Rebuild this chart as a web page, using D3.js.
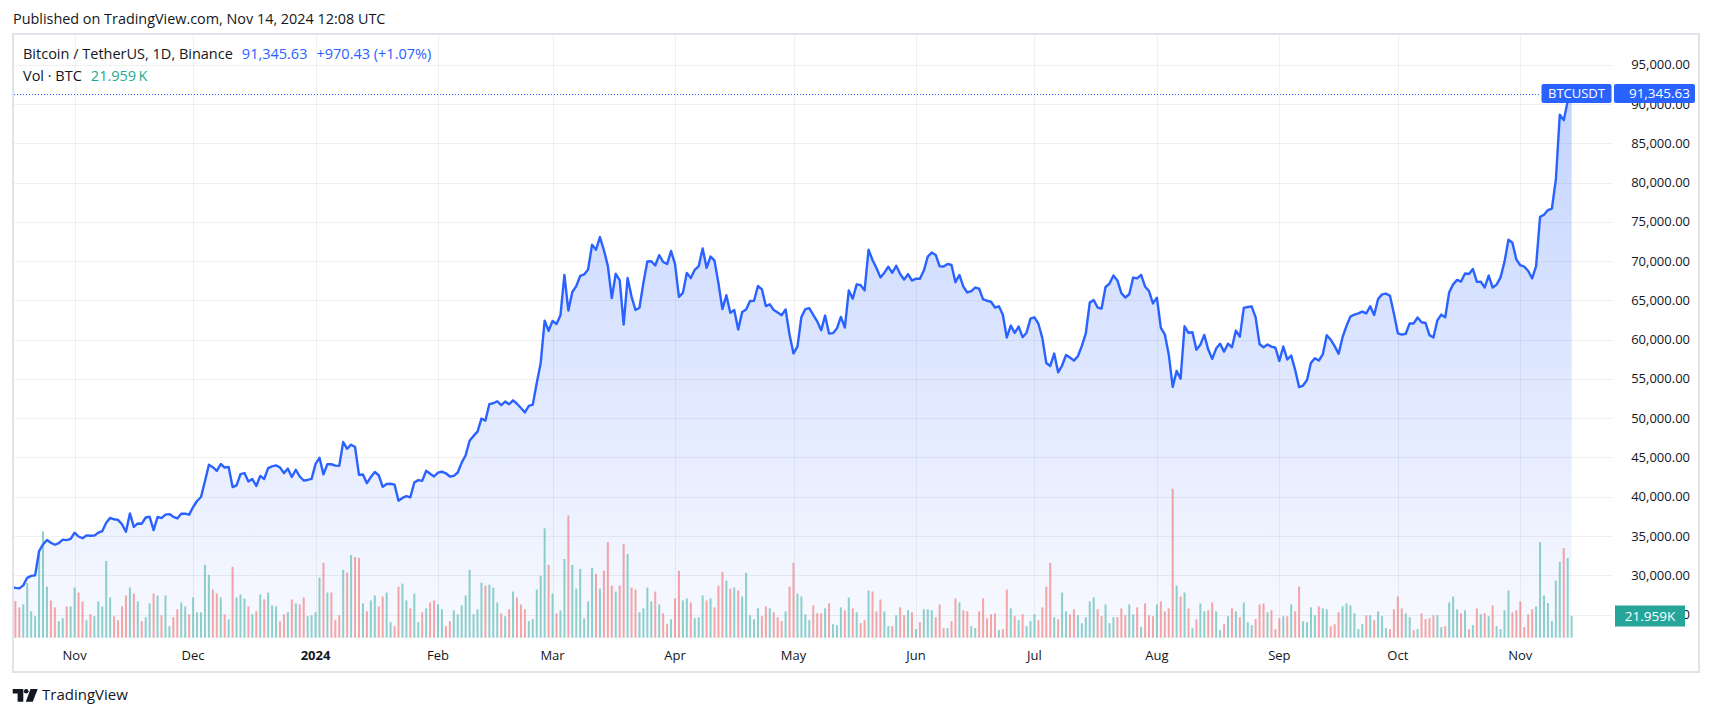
<!DOCTYPE html>
<html><head><meta charset="utf-8">
<script src="https://cdn.jsdelivr.net/npm/d3@7"></script>
<style>
html,body{margin:0;padding:0;background:#fff;}
svg{display:block;}
text{font-family:"Open Sans",sans-serif;}
</style></head><body>
<svg id="c" width="1713" height="717"></svg>
<script>
// ---- DATA (daily closes, BTCUSDT, Binance) ----
const seriesStart = "2023-10-16";
const closesOct23 = [28500,28400,28330,28720,29680,29920,29990,33070,33920,34500,34150,33890,34090,34540,34480,34640];
const closesNov23 = [35420,34940,34720,35080,35040,35050,35420,35620,36700,37310,37130,37060,36490,35550,37880,36160,36600,36570,37360,37450,35760,37420,37290,37720,37790,37450,37240,37830,37850,37720];
const closesDec23 = [38690,39460,39970,41980,44080,43770,43290,44170,43720,43790,41240,41450,42890,43020,41940,42260,41370,42660,42270,43650,43860,43990,43720,43010,43580,42520,43440,42580,42070,42140,42280];
const closesJan24 = [44180,44960,42850,44150,44140,43970,43930,46970,46110,46630,46340,42780,42840,41730,42510,43150,42740,41260,41620,41660,41550,39500,39850,40080,39930,41810,42120,42030,43300,42940,42580];
const closesFeb24 = [43080,43190,42990,42580,42660,43090,44340,45290,47130,47750,48290,49960,49700,51790,51910,52160,51660,52120,51780,52280,51840,51300,50730,51570,51730,54480,57040,62430,61130];
const closesMar24 = [62390,61990,63110,68250,63720,66070,66820,68120,68310,68950,72080,71450,73070,71390,69400,65300,68390,67590,61930,67850,65490,63780,64060,67230,69950,69990,69450,70760,69890,69630,71290];
const closesApr24 = [69650,65460,65960,68510,67840,68900,69360,71620,69140,70590,70060,67190,63890,65660,63420,63790,61280,63510,63840,64930,64960,66840,66410,64280,64500,63770,63460,63120,63840,60640];
const closesMay24 = [58250,59120,62890,63890,64010,63170,62330,61190,63070,60790,60830,61450,62900,61550,66270,65230,67050,66940,66280,71450,70140,69120,67930,68530,69290,68510,69410,68370,67650,68350,67530];
const closesJun24 = [67770,67750,68800,70570,71090,70790,69340,69310,69650,69510,67320,68240,66750,66010,66190,66640,66490,65140,64960,64830,64100,64250,63180,60280,61800,60860,61670,60320,60890,62680];
const closesJul24 = [62850,62030,60200,57030,56660,58230,55850,56710,58050,57720,57340,57890,59210,60790,64720,65040,64090,63970,66710,67150,68170,67550,65930,65370,65780,67910,67810,68250,66780,66190,64620];
const closesAug24 = [65350,61500,60680,58120,53990,56030,55030,61710,60880,60940,58710,59350,60610,58740,57560,58870,59480,58480,59490,59030,61160,60380,64040,64160,64220,62830,59420,59030,59380,59120,58970];
const closesSep24 = [57300,59130,57490,57970,56160,53960,54160,54870,57050,57640,57350,58130,60570,60000,59180,58210,60310,61760,62950,63200,63350,63580,63340,64260,63150,65180,65770,65870,65600,63330];
const closesOct24 = [60810,60650,60750,62080,62070,62820,62220,62130,60580,60270,62450,63190,62850,66050,67040,67610,67400,68420,68360,69000,67360,67370,66650,68160,66640,67010,67930,69910,72720,72340,70220];
const closesNov24 = [69480,69310,68740,67810,69360,75640,75900,76510,76700,80370,88650,87950,90375.2,91345.63];

// volume in thousands of BTC
const volOct23 = [60,37,30.7,33.7,55.3,26.7,21.7,87.3,107.7,51.7,37.7,30.7,16.7,19.7,31.7,31.7];
const volNov23 = [50.7,45.7,36.7,17.7,23.7,21.7,36.7,31.7,77.7,40.7,21.7,17.7,31.7,42.7,50.7,44.7,36.7,16.7,20.7,34.7,44.7,42.7,22.7,42.7,11.7,20.7,28.7,35.7,31.7,23.7];
const volDec23 = [40.7,25.7,25.7,73.7,63.7,48.7,44.7,40.7,23.7,18.7,71.7,40.7,43.7,39.7,31.7,23.7,26.7,43.7,38.7,45.7,32.7,31.7,16.7,23.7,25.7,38.7,34.7,33.7,40.7,21.7,22.7];
const volJan24 = [25.7,60.7,75.7,45.7,45.7,17.7,22.7,68.7,65.7,83.7,81.7,80.7,34.7,26.7,37.7,42.7,31.7,41.7,45.7,15.7,11.7,51.7,54.7,37.7,29.7,44.7,15.7,25.7,29.7,35.7,37.7];
const volFeb24 = [33.7,28.7,11.7,16.7,27.7,23.7,32.7,42.7,68.7,23.7,28.7,55.7,52.7,53.7,50.7,35.7,24.7,21.7,28.7,46.7,40.7,33.7,28.7,16.7,18.7,48.7,62.7,110.7,73.7];
const volMar24 = [44.7,24.7,27.7,79.7,123.7,73.7,49.7,69.7,19.7,36.7,70.7,64.7,49.7,67.7,96.7,52.7,46.7,52.7,94.7,84.7,50.7,48.7,25.7,29.7,50.7,36.7,46.7,33.7,24.7,13.7,18.7];
const volApr24 = [39.7,67.7,37.7,39.7,35.7,19.7,20.7,42.7,37.7,39.7,30.7,52.7,66.7,57.7,49.7,50.7,47.7,41.7,65.7,22.7,18.7,29.7,21.7,31.7,29.7,25.7,20.7,16.7,26.7,51.7];
const volMay24 = [75.7,44.7,41.7,23.7,17.7,32.7,24.7,24.7,29.7,34.7,13.7,12.7,30.7,27.7,40.7,29.7,25.7,14.7,17.7,47.7,46.7,26.7,38.7,26.7,11.7,11.7,22.7,30.7,22.7,27.7,25.7];
const volJun24 = [8.7,15.7,28.7,28.7,27.7,20.7,33.7,9.7,9.7,16.7,39.7,35.7,27.7,26.7,11.7,9.7,26.7,39.7,19.7,23.7,24.7,7.7,8.7,48.7,29.7,21.7,17.7,23.7,11.7,16.7];
const volJul24 = [23.7,17.7,30.7,51.7,75.7,20.7,18.7,45.7,26.7,23.7,28.7,22.7,14.7,20.7,36.7,40.7,28.7,21.7,33.7,14.7,20.7,20.7,29.7,22.7,33.7,23.7,30.7,10.7,34.7,22.7,21.7];
const volAug24 = [33.7,36.7,26.7,29.7,150.7,52.7,41.7,45.7,29.7,9.7,18.7,34.7,26.7,27.7,35.7,26.7,7.7,13.7,21.7,29.7,26.7,20.7,35.7,15.7,12.7,18.7,33.7,34.7,25.7,27.7,8.7];
const volSep24 = [19.7,21.7,21.7,33.7,26.7,51.7,16.7,15.7,30.7,22.7,31.7,29.7,28.7,11.7,13.7,25.7,31.7,34.7,32.7,24.7,8.7,13.7,22.7,22.7,17.7,26.7,21.7,9.7,8.7,28.7];
const volOct24 = [41.7,29.7,24.7,20.7,7.7,8.7,24.7,18.7,19.7,22.7,22.7,10.7,11.7,35.7,41.7,28.7,24.7,27.7,8.7,12.7,29.7,23.7,24.7,21.7,32.7,11.7,8.7,27.7,47.7,25.7,27.7];
const volNov24 = [36.7,10.7,23.7,28.7,31.7,96.7,42.7,35.0,17.0,57.7,76.7,90.7,80.7,21.959];

const monthTickLabels = ["Nov","Dec","2024","Feb","Mar","Apr","May","Jun","Jul","Aug","Sep","Oct","Nov"];
const priceTicks = [25000,30000,35000,40000,45000,50000,55000,60000,65000,70000,75000,80000,85000,90000,95000];
const symbolName = "BTCUSDT";
const lastChange = 970.43;
const lastChangePct = 1.07;

// ---- BUILD ----
const closes = [].concat(closesOct23,closesNov23,closesDec23,closesJan24,closesFeb24,closesMar24,closesApr24,closesMay24,closesJun24,closesJul24,closesAug24,closesSep24,closesOct24,closesNov24);
const vols = [].concat(volOct23,volNov23,volDec23,volJan24,volFeb24,volMar24,volApr24,volMay24,volJun24,volJul24,volAug24,volSep24,volOct24,volNov24);
const t0 = d3.utcParse("%Y-%m-%d")(seriesStart);
const data = closes.map((c,i)=>({date:d3.utcDay.offset(t0,i), close:c, vol:vols[i], up: i===0 ? true : c >= closes[i-1]}));
const last = data[data.length-1];

const pane = {left:14, right:1613, top:34, bottom:638};
const svg = d3.select("#c");
const TXT = "#131722";
const BLUE = "#2962FF";

const x = d3.scaleUtc().domain([new Date(Date.UTC(2023,10,1)), new Date(Date.UTC(2024,10,1))]).range([74.6, 1520.3]);
const y = d3.scaleLinear().domain([30000,95000]).range([575.3,64.8]);
const v = d3.scaleLinear().domain([0,100]).range([637.7,538.9]);

// background
svg.append("rect").attr("width",1713).attr("height",717).attr("fill","#fff");

// header
svg.append("text").attr("x",13).attr("y",20).attr("dominant-baseline","middle")
  .attr("font-size",14.4).attr("fill",TXT).text("Published on TradingView.com, Nov 14, 2024 12:08 UTC");

const defs = svg.append("defs");
defs.append("clipPath").attr("id","paneClip").append("rect")
  .attr("x",pane.left).attr("y",pane.top).attr("width",pane.right-pane.left).attr("height",pane.bottom-pane.top);
const grad = defs.append("linearGradient").attr("id","areaGrad").attr("gradientUnits","userSpaceOnUse")
  .attr("x1",0).attr("x2",0).attr("y1",pane.top).attr("y2",pane.bottom);
grad.append("stop").attr("offset",0).attr("stop-color","rgba(41,98,255,0.30)");
grad.append("stop").attr("offset",1).attr("stop-color","rgba(41,98,255,0.03)");

// grid
const monthTicks = d3.utcMonth.range(new Date(Date.UTC(2023,10,1)), new Date(Date.UTC(2024,10,2)));
const gridG = svg.append("g").attr("clip-path","url(#paneClip)");
gridG.selectAll("line.v").data(monthTicks).join("line")
  .attr("x1",d=>Math.round(x(d))+0.5).attr("x2",d=>Math.round(x(d))+0.5)
  .attr("y1",pane.top).attr("y2",pane.bottom).attr("stroke","rgba(42,46,57,0.07)").attr("stroke-width",1);
gridG.selectAll("line.h").data(priceTicks).join("line")
  .attr("x1",pane.left).attr("x2",pane.right)
  .attr("y1",d=>Math.round(y(d))+0.5).attr("y2",d=>Math.round(y(d))+0.5)
  .attr("stroke","rgba(42,46,57,0.07)").attr("stroke-width",1);

// plot group
const plot = svg.append("g").attr("clip-path","url(#paneClip)");
const area = d3.area().x(d=>x(d.date)).y0(pane.bottom).y1(d=>y(d.close));
plot.append("path").datum(data).attr("d",area).attr("fill","url(#areaGrad)");

plot.selectAll("rect.vol").data(data).join("rect")
  .attr("x",d=>x(d.date)-1).attr("width",2)
  .attr("y",d=>v(d.vol)).attr("height",d=>v(0)-v(d.vol))
  .attr("fill",d=>d.up ? "rgba(38,166,154,0.5)" : "rgba(239,83,80,0.5)");

const line = d3.line().x(d=>x(d.date)).y(d=>y(d.close));
plot.append("path").datum(data).attr("d",line).attr("fill","none")
  .attr("stroke",BLUE).attr("stroke-width",2.4).attr("stroke-linejoin","round");

// last price dotted line
svg.append("line").attr("x1",pane.left).attr("x2",1541).attr("y1",Math.round(y(last.close))+0.5).attr("y2",Math.round(y(last.close))+0.5)
  .attr("stroke",BLUE).attr("stroke-width",1).attr("stroke-dasharray","1,2");

// price axis labels
const fmt = d3.format(",.2f");
svg.append("g").selectAll("text").data(priceTicks).join("text")
  .attr("x",1690).attr("y",d=>y(d)+1).attr("text-anchor","end").attr("dominant-baseline","middle")
  .attr("font-size",13).attr("fill",TXT).text(d=>fmt(d));

// time axis labels
svg.append("g").selectAll("text").data(monthTicks).join("text")
  .attr("x",d=>x(d)).attr("y",657).attr("text-anchor","middle").attr("dominant-baseline","middle")
  .attr("font-size",13).attr("font-weight",(d,i)=>monthTickLabels[i]==="2024"?"bold":"normal")
  .attr("fill",TXT).text((d,i)=>monthTickLabels[i]);

// last price labels
const ly = y(last.close);
svg.append("rect").attr("x",1541.5).attr("y",ly-9.5).attr("width",70).attr("height",19).attr("rx",2).attr("fill",BLUE);
svg.append("text").attr("x",1576.5).attr("y",ly+1).attr("text-anchor","middle").attr("dominant-baseline","middle")
  .attr("font-size",13).attr("fill","#fff").text(symbolName);
svg.append("rect").attr("x",1614).attr("y",ly-9.5).attr("width",81).attr("height",19).attr("rx",2).attr("fill",BLUE);
svg.append("text").attr("x",1690).attr("y",ly+1).attr("text-anchor","end").attr("dominant-baseline","middle")
  .attr("font-size",13.5).attr("fill","#fff").text(fmt(last.close));

// volume label
const vy = v(last.vol);
svg.append("rect").attr("x",1615).attr("y",vy-10.5).attr("width",70).attr("height",21).attr("fill","#26a69a");
svg.append("text").attr("x",1650).attr("y",vy+1).attr("text-anchor","middle").attr("dominant-baseline","middle")
  .attr("font-size",13.5).attr("fill","#fff").text(d3.format(".3f")(last.vol)+"K");

// legend
const lg1 = svg.append("text").attr("x",23).attr("y",54.5).attr("dominant-baseline","middle").attr("font-size",14.5);
lg1.append("tspan").attr("fill",TXT).text("Bitcoin / TetherUS, 1D, Binance");
lg1.append("tspan").attr("dx",9).attr("fill",BLUE).text(fmt(last.close));
lg1.append("tspan").attr("dx",9).attr("fill",BLUE).text("+"+fmt(lastChange)+" (+"+lastChangePct.toFixed(2)+"%)");
const lg2 = svg.append("text").attr("x",23).attr("y",76.5).attr("dominant-baseline","middle").attr("font-size",14.5);
lg2.append("tspan").attr("fill",TXT).text("Vol \u00b7 BTC");
lg2.append("tspan").attr("dx",9).attr("fill","#22ab94").text(d3.format(".3f")(last.vol)+"\u2009K");

// frame
svg.append("rect").attr("x",13).attr("y",34).attr("width",1686).attr("height",638)
  .attr("fill","none").attr("stroke","#e0e3eb").attr("stroke-width",2);

// footer logo
const logo = svg.append("g").attr("fill",TXT);
logo.append("path").attr("d","M12.7 689 H23.3 V701.7 H17.6 V693.4 H12.7 Z");
logo.append("circle").attr("cx",26.2).attr("cy",691.3).attr("r",2.3);
logo.append("path").attr("d","M30.5 689 H37.7 L32.8 701.7 H25.8 Z");
svg.append("text").attr("x",42).attr("y",696).attr("dominant-baseline","middle")
  .attr("font-size",15).attr("fill",TXT).text("TradingView");
</script>
</body></html>
